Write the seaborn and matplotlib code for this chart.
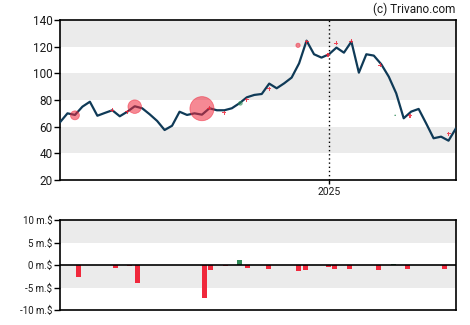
import numpy as np
import pandas as pd
import matplotlib
matplotlib.use("Agg")
import matplotlib.pyplot as plt
import matplotlib.dates as mdates
import seaborn as sns

# Weekly closing prices
price_start = "2024-04-24"
prices = [63.3, 70.0, 68.8, 75.0, 78.7, 68.2, 70.3, 72.3, 67.8, 71.2,
          75.3, 73.8, 69.3, 64.3, 57.5, 60.7, 71.2, 68.8, 70.0, 69.0,
          73.8, 72.3, 72.3, 73.8, 77.5, 82.0, 83.8, 84.5, 92.3, 88.8,
          92.5, 96.8, 107.5, 124.5, 114.3, 111.8, 114.3, 119.3, 115.5, 123.8,
          100.5, 114.3, 113.3, 106.8, 97.5, 85.0, 66.3, 71.3, 73.3, 62.5,
          51.3, 52.5, 49.5, 58.8]

# Insider trades shown on the price chart (date, trade price)
trade_dates = ["2024-05-08", "2024-06-12", "2024-06-26", "2024-07-03", "2024-09-04",
               "2024-09-11", "2024-09-25", "2024-10-10", "2024-10-16", "2024-11-06",
               "2024-12-03", "2024-12-11", "2024-12-31", "2025-01-08", "2025-01-22",
               "2025-02-18", "2025-03-04", "2025-03-18", "2025-04-23"]
trade_prices = [68.5, 72.3, 71.2, 75.0, 73.5, 73.8, 70.5, 77.5, 80.2, 88.5,
                121.0, 123.8, 114.0, 122.5, 124.0, 106.0, 68.5, 68.3, 54.8]

# Net insider flow per filing (m.$)
flow_dates = ["2024-05-09", "2024-06-13", "2024-06-26", "2024-07-03", "2024-09-04",
              "2024-09-10", "2024-09-24", "2024-10-07", "2024-10-14", "2024-11-03",
              "2024-12-01", "2024-12-08", "2024-12-29", "2025-01-04", "2025-01-18",
              "2025-02-14", "2025-02-28", "2025-03-13", "2025-04-17"]
flow_values = [-2.7, -0.6, -0.3, -4.1, -7.3, -1.1, -0.3, 1.15, -0.6, -0.85,
               -1.3, -1.1, -0.4, -0.85, -0.85, -1.1, 0.25, -0.85, -0.85]

price_ticks = [20, 40, 60, 80, 100, 120, 140]
flow_ticks = [-10, -5, 0, 5, 10]
flow_tick_labels = ["-10 m.$", "-5 m.$", "0 m.$", "5 m.$", "10 m.$"]
year_mark = "2025-01-01"
year_label = "2025"

LINE = "#0f3a57"
RED = "#f0283c"
GREEN = "#2e8b57"
BAND = "#ebebeb"
TEXT = "#1a1a1a"

sns.set_theme(style="white")
plt.rcParams["font.family"] = ["Roboto", "DejaVu Sans"]

dates = pd.date_range(price_start, periods=len(prices), freq="7D")
df = pd.DataFrame({"date": dates, "price": prices})
trades = pd.DataFrame({"date": pd.to_datetime(trade_dates), "price": trade_prices,
                       "value": flow_values})
flows = pd.DataFrame({"date": pd.to_datetime(flow_dates), "value": flow_values})

fig = plt.figure(figsize=(4.70, 3.25), dpi=100)
ax = fig.add_axes([60 / 470, 1 - 180 / 325, 396 / 470, 160 / 325])
ax2 = fig.add_axes([60 / 470, 1 - 310 / 325, 396 / 470, 90 / 325])

xlim = (mdates.date2num(dates[0]), mdates.date2num(dates[-1]))

# --- price panel ---
for lo in (40, 80, 120):
    ax.axhspan(lo, lo + 20, color=BAND, lw=0, zorder=0)
ax.axvline(pd.Timestamp(year_mark), color="black", lw=1, ls=(0, (1, 2)), zorder=1)
sns.lineplot(data=df, x="date", y="price", ax=ax, color=LINE, lw=1.6, zorder=3)

# marker diameter in px grows with trade value; small trades drawn as plus signs
px_pt = 72 / fig.dpi
vals = np.abs(trades["value"].to_numpy())
diam = 3.3 * vals
big = diam >= 3.7
tiny = vals < 0.3
colors = np.array([GREEN if v > 0 else RED for v in trades["value"]])
ax.scatter(trades["date"][big], trades["price"][big], s=(diam[big] * px_pt) ** 2,
           c=colors[big], alpha=0.55, edgecolors=colors[big], linewidths=0.6, zorder=4)
small = ~big & ~tiny
ax.scatter(trades["date"][small], trades["price"][small], s=(4.0 * px_pt) ** 2,
           marker="P", c=colors[small], alpha=0.85, edgecolors="none", zorder=4)
ax.scatter(trades["date"][tiny], trades["price"][tiny], s=(1.4 * px_pt) ** 2,
           c=colors[tiny], edgecolors="none", zorder=4)

ax.set_xlim(*xlim)
ax.set_ylim(20, 140)
ax.set_yticks(price_ticks)
ax.set_xticks([mdates.date2num(pd.Timestamp(year_mark))])
ax.set_xticklabels([year_label])
ax.set_xlabel("")
ax.set_ylabel("")
ax.tick_params(axis="y", direction="out", length=4, width=1, color="black",
               labelsize=8.5, labelcolor=TEXT, pad=1.5, left=True)
ax.tick_params(axis="x", direction="out", length=3, width=1, color="black",
               labelsize=7.5, labelcolor=TEXT, pad=2, bottom=True)
for sp in ax.spines.values():
    sp.set_color("black")
    sp.set_linewidth(1.2)

# --- insider flow panel ---
ax2.axhspan(5, 10, color=BAND, lw=0, zorder=0)
ax2.axhspan(-5, 0, color=BAND, lw=0, zorder=0)
bar_colors = [GREEN if v > 0 else RED for v in flows["value"]]
ax2.bar(flows["date"], flows["value"], width=4.7, align="edge", color=bar_colors,
        lw=0, zorder=2)
ax2.axhline(0, color="black", lw=1.2, zorder=3)
ax2.set_xlim(*xlim)
ax2.set_ylim(-10, 10)
ax2.set_yticks(flow_ticks)
ax2.set_yticklabels(flow_tick_labels)
ax2.set_xticks([])
ax2.tick_params(axis="y", direction="out", length=4, width=1, color="black",
                labelsize=7, labelcolor=TEXT, pad=1.5, left=True)
for sp in ax2.spines.values():
    sp.set_color("black")
    sp.set_linewidth(1.2)

fig.text(455 / 470, 1 - 9 / 325, "(c) Trivano.com", ha="right", va="center",
         fontsize=8.5, color=TEXT)

fig.savefig("out.png", dpi=100)
